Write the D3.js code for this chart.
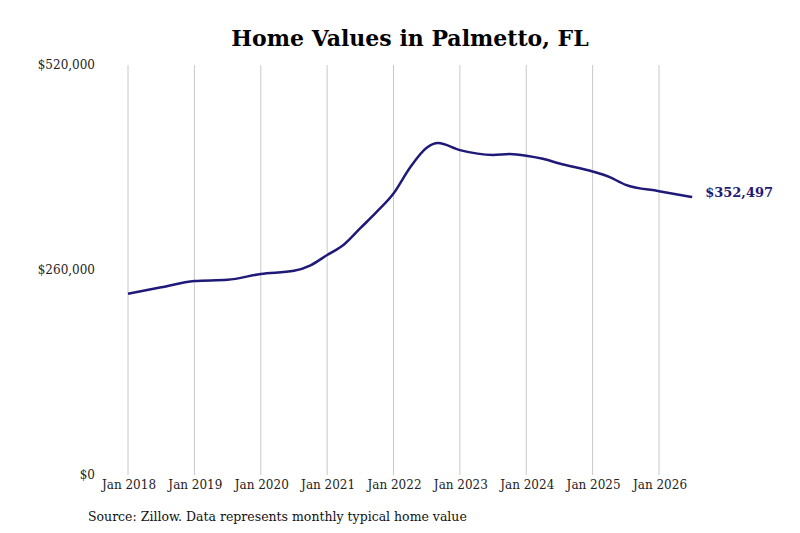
<!DOCTYPE html>
<html><head><meta charset="utf-8">
<script src="https://cdn.jsdelivr.net/npm/d3@7"></script>
<style>body{margin:0;background:#fff}text{font-family:"DejaVu Serif",serif}</style>
</head><body><svg id="c" width="800" height="533"></svg>
<script>
// home values (decimal year, dollars)
var years = [2018.0,2018.5,2019.0,2019.5,2020.0,2020.5,2020.75,2021.0,2021.25,2021.5,2021.75,2022.0,2022.25,2022.5,2022.67,2023.0,2023.5,2023.75,2024.0,2024.25,2024.5,2025.0,2025.25,2025.5,2026.0,2026.5];
var values = [230000,238000,246000,247500,255000,259000,266000,279000,292000,313000,334000,357000,390000,415000,421000,412000,406000,407000,405000,401000,395000,385000,378000,368000,360000,352497];
var tickYears = [2018,2019,2020,2021,2022,2023,2024,2025,2026];
var yTicks = [0,260000,520000];

var svg = d3.select("#c");
var x = d3.scaleLinear().domain([2018,2026]).range([128,659]);
var y = d3.scaleLinear().domain([0,520000]).range([475,65]);

svg.append("text").attr("x",410).attr("y",46).attr("text-anchor","middle")
  .attr("font-size",22).attr("font-weight","bold").text("Home Values in Palmetto, FL");

svg.selectAll(".g").data(tickYears).enter().append("line")
  .attr("x1",function(d){return x(d)}).attr("x2",function(d){return x(d)})
  .attr("y1",65).attr("y2",475).attr("stroke","#c8c8c8").attr("stroke-width",1);

svg.selectAll(".xl").data(tickYears).enter().append("text")
  .attr("x",function(d){return x(d)+1}).attr("y",489).attr("text-anchor","middle")
  .attr("font-size",12).attr("fill","#222").text(function(d){return "Jan "+d});

svg.selectAll(".yl").data(yTicks).enter().append("text")
  .attr("x",95).attr("y",function(d){return y(d)+4}).attr("text-anchor","end")
  .attr("font-size",12).attr("fill","#222").text(function(d){return d3.format("$,")(d)});

var pts = years.map(function(d,i){return [d,values[i]]});
svg.append("path").datum(pts)
  .attr("d",d3.line().x(function(d){return x(d[0])}).y(function(d){return y(d[1])}).curve(d3.curveMonotoneX))
  .attr("fill","none").attr("stroke","#1f1a78").attr("stroke-width",2.5);

var last = pts[pts.length-1];
svg.append("text").attr("x",x(last[0])+13).attr("y",y(last[1])).attr("font-size",13)
  .attr("font-weight","bold").attr("fill","#1f1a78").text(d3.format("$,")(last[1]));

svg.append("text").attr("x",88).attr("y",521).attr("font-size",12.5).attr("fill","#111")
  .text("Source: Zillow. Data represents monthly typical home value");
</script></body></html>
